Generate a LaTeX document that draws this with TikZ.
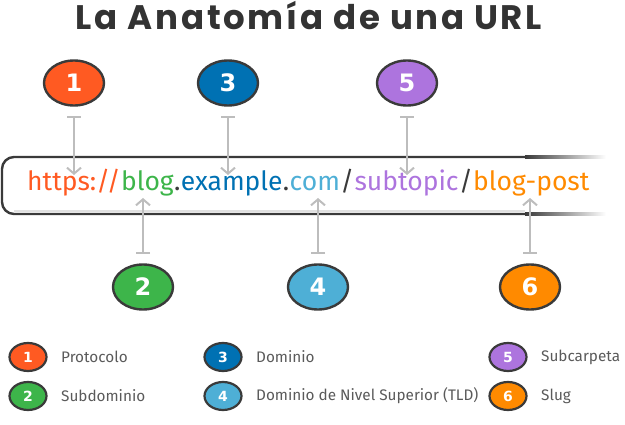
\documentclass[tikz,border=0pt]{standalone}
\usepackage{fontspec}
\setmainfont{Fira Sans}
\newfontfamily\titlefont[LetterSpace=8]{Poppins}
\newfontfamily\numfont{DejaVu Sans}
\usetikzlibrary{shapes.geometric,arrows.meta}
\definecolor{protocolo}{HTML}{FF5A22}
\definecolor{subdominio}{HTML}{3DB54A}
\definecolor{dominio}{HTML}{0071B3}
\definecolor{tld}{HTML}{4EAFD6}
\definecolor{subcarpeta}{HTML}{AD74DE}
\definecolor{slug}{HTML}{FF8A00}
\definecolor{ringgray}{HTML}{3A3A3A}
\definecolor{stemgray}{HTML}{BDBDBD}
\definecolor{textgray}{HTML}{5A5A5A}
\definecolor{titlegray}{HTML}{333333}

\begin{document}
\begin{tikzpicture}[x=1pt,y=-1pt]
\tikzstyle{badge}=[ellipse,draw=ringgray,line width=2.4pt,minimum width=60pt,minimum height=45pt,inner sep=0,text=white,font=\numfont\bfseries\fontsize{24}{24}\selectfont]
\tikzstyle{chip}=[badge,minimum width=37pt,minimum height=28pt,line width=2.2pt,font=\numfont\bfseries\fontsize{14}{14}\selectfont]
\tikzstyle{stem}=[draw=stemgray,line width=2pt,{Bar[width=14pt]}-{Straight Barb[length=6pt,width=14pt]}]
\tikzstyle{part}=[anchor=base west,inner sep=0,font=\fontsize{26.5}{26.5}\selectfont]
\tikzstyle{entry}=[anchor=west,inner sep=0,text=textgray,font=\fontsize{15.3}{15.3}\selectfont]
\useasboundingbox (0,0) rectangle (625,425);

\node[anchor=base,inner sep=0,text=titlegray,font=\titlefont\bfseries\fontsize{34}{34}\selectfont] (title) at (309,30) {La Anatomía de una URL};

% url box
\draw[ringgray,line width=2.4pt,rounded corners=12pt] (525,157) -- (2,157) -- (2,214) -- (525,214);
\draw[black!12,line width=1.5pt] (14,211) -- (525,211);
\shade[left color=ringgray,right color=white] (525,155.8) rectangle (606,158.2);
\shade[left color=ringgray,right color=white] (525,212.8) rectangle (606,215.2);

% url parts
\node[part,text=protocolo] (proto) at (27,191) {https://};
\node[part,text=subdominio] (sub) at (proto.base east) {blog};
\node[part,text=ringgray] (dot1) at (sub.base east) {.};
\node[part,text=dominio] (dom) at (dot1.base east) {example};
\node[part,text=ringgray] (dot2) at (dom.base east) {.};
\node[part,text=tld] (tld) at (dot2.base east) {com};
\node[part,text=ringgray] (sl1) at (tld.base east) {/};
\node[part,text=subcarpeta] (dir) at (sl1.base east) {subtopic};
\node[part,text=ringgray] (sl2) at (dir.base east) {/};
\node[part,text=slug] (slug) at (sl2.base east) {blog-post};

% numbered badges
\node[badge,fill=protocolo] (n1) at (74,83) {1};
\node[badge,fill=dominio] (n3) at (228,83) {3};
\node[badge,fill=subcarpeta] (n5) at (407,83) {5};
\node[badge,fill=subdominio] (n2) at (143,287) {2};
\node[badge,fill=tld] (n4) at (318,287) {4};
\node[badge,fill=slug] (n6) at (530,287) {6};

\coordinate (top) at (0,175);
\coordinate (bot) at (0,198);
\draw[stem,shorten <=9pt] (n1.south) -- (n1.south |- top);
\draw[stem,shorten <=9pt] (n3.south) -- (n3.south |- top);
\draw[stem,shorten <=9pt] (n5.south) -- (n5.south |- top);
\draw[stem,shorten <=9pt] (n2.north) -- (n2.north |- bot);
\draw[stem,shorten <=9pt] (n4.north) -- (n4.north |- bot);
\draw[stem,shorten <=9pt] (n6.north) -- (n6.north |- bot);

% legend
\node[chip,fill=protocolo] (k1) at (28,357) {1};
\node[entry] (e1) at (61,357) {Protocolo};
\node[chip,fill=dominio] (k3) at (223,357) {3};
\node[entry] (e3) at (256,357) {Dominio};
\node[chip,fill=subcarpeta] (k5) at (508,357) {5};
\node[entry] (e5) at (541,357) {Subcarpeta};
\node[chip,fill=subdominio] (k2) at (28,396) {2};
\node[entry] (e2) at (61,396) {Subdominio};
\node[chip,fill=tld] (k4) at (223,396) {4};
\node[entry] (e4) at (256,396) {Dominio de Nivel Superior (TLD)};
\node[chip,fill=slug] (k6) at (508,396) {6};
\node[entry] (e6) at (541,396) {Slug};
\end{tikzpicture}
\end{document}
